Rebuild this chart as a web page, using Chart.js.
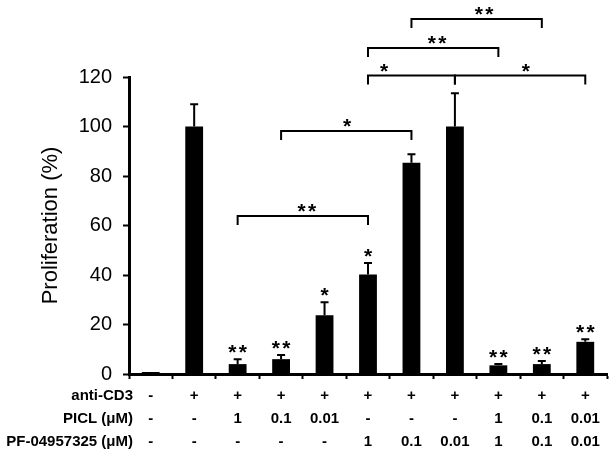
<!DOCTYPE html>
<html>
<head>
<meta charset="utf-8">
<script src="https://cdn.jsdelivr.net/npm/chart.js@4"></script>
<style>
  html, body { margin: 0; padding: 0; background: #fff; }
  #wrap { width: 612px; height: 458px; }
</style>
</head>
<body>
<div id="wrap"><canvas id="c" width="612" height="458"></canvas></div>
<script>
// ---- data ----
const antiCD3 = ['-', '+', '+', '+', '+', '+', '+', '+', '+', '+', '+'];
const picl    = ['-', '-', '1', '0.1', '0.01', '-', '-', '-', '1', '0.1', '0.01'];
const pf      = ['-', '-', '-', '-', '-', '1', '0.1', '0.01', '1', '0.1', '0.01'];
const rowLabels = ['anti-CD3', 'PICL (\u03BCM)', 'PF-04957325 (\u03BCM)'];

const proliferation = [0.8, 100, 4, 6, 23.7, 40.2, 85.4, 100, 3.5, 4, 13];
const errUp         = [0, 9, 2, 1.7, 5.3, 4.6, 3.4, 13.4, 0.5, 1.3, 1];
const barStars      = ['', '', '**', '**', '*', '*', '', '', '**', '**', '**'];

// brackets (category indices, height in data units)
const bracketFrom   = [2, 3, 5, 7, 5, 6];
const bracketTo     = [5, 6, 7, 10, 8, 9];
const bracketY      = [63.8, 98.2, 120.6, 120.6, 131.7, 143.4];
const bracketLabel  = ['**', '*', '*', '*', '**', '**'];
const bracketLabelX = [3.59, 4.52, 5.37, 8.63, 6.59, 7.67];

const yTicks = [0, 20, 40, 60, 80, 100, 120];

const FONT = '"Liberation Sans", Arial, Helvetica, sans-serif';
const labels = antiCD3.map((a, i) => [a, picl[i], pf[i]]);
const TABLE_LH = 23;
const TABLE_PAD = 5;
const X_TICKLEN = 5;

function drawStars(ctx, text, cx, cy) {
  const n = text.length;
  const sp = 10.5;
  ctx.save();
  ctx.fillStyle = '#000';
  ctx.font = 'bold 21px ' + FONT;
  ctx.textAlign = 'center';
  ctx.textBaseline = 'alphabetic';
  for (let k = 0; k < n; k++) {
    const x = cx + (k - (n - 1) / 2) * sp;
    ctx.fillText('*', x, cy + 12);
  }
  ctx.restore();
}

const overlay = {
  id: 'overlay',
  afterDraw(chart) {
    const ctx = chart.ctx;
    const xs = chart.scales.x, ys = chart.scales.y;
    ctx.save();
    ctx.strokeStyle = '#000';
    ctx.lineWidth = 2;
    // error bars
    proliferation.forEach((v, i) => {
      if (!errUp[i]) return;
      const x = xs.getPixelForValue(i);
      const y0 = ys.getPixelForValue(v);
      const y1 = ys.getPixelForValue(v + errUp[i]);
      ctx.beginPath();
      ctx.moveTo(x, y0); ctx.lineTo(x, y1);
      ctx.moveTo(x - 4, y1); ctx.lineTo(x + 4, y1);
      ctx.stroke();
    });
    // stars above bars
    barStars.forEach((s, i) => {
      if (!s) return;
      const x = xs.getPixelForValue(i);
      const y = ys.getPixelForValue(proliferation[i] + errUp[i]) - 12;
      drawStars(ctx, s, x, y);
    });
    // brackets
    bracketFrom.forEach((f, k) => {
      const x0 = xs.getPixelForValue(f);
      const x1 = xs.getPixelForValue(bracketTo[k]);
      const y = ys.getPixelForValue(bracketY[k]);
      ctx.beginPath();
      ctx.moveTo(x0, y + 9); ctx.lineTo(x0, y); ctx.lineTo(x1, y); ctx.lineTo(x1, y + 9);
      ctx.stroke();
      const lx = xs.getPixelForValue(0) + bracketLabelX[k] * (xs.getPixelForValue(1) - xs.getPixelForValue(0));
      drawStars(ctx, bracketLabel[k], lx, y - 10);
    });
    // table row labels
    ctx.fillStyle = '#000';
    ctx.font = 'bold 15px ' + FONT;
    ctx.textAlign = 'right';
    ctx.textBaseline = 'middle';
    rowLabels.forEach((t, r) => {
      const y = xs.top + X_TICKLEN + TABLE_PAD + TABLE_LH / 2 + r * TABLE_LH;
      ctx.fillText(t, 133, y);
    });
    ctx.restore();
  }
};

new Chart(document.getElementById('c'), {
  type: 'bar',
  data: {
    labels: labels,
    datasets: [{
      data: proliferation,
      backgroundColor: '#000',
      borderWidth: 0,
      barPercentage: 0.41,
      categoryPercentage: 1.0
    }]
  },
  options: {
    responsive: false,
    animation: false,
    devicePixelRatio: 1,
    layout: { padding: { top: 77, right: 5, left: 0, bottom: 0 } },
    plugins: { legend: { display: false }, tooltip: { enabled: false } },
    scales: {
      x: {
        type: 'category',
        offset: true,
        afterFit(s) { s.height = 84; },
        grid: {
          display: true, drawOnChartArea: false, drawTicks: true, offset: true,
          tickLength: X_TICKLEN, tickWidth: 2, tickColor: '#000', color: '#000'
        },
        border: { display: true, color: '#000', width: 3 },
        ticks: {
          autoSkip: false, maxRotation: 0, minRotation: 0,
          color: '#000', padding: TABLE_PAD,
          font: { family: FONT, size: 15, weight: 'bold', lineHeight: TABLE_LH / 15 }
        }
      },
      y: {
        min: 0, max: 120,
        afterFit(s) { s.width = 129; },
        afterBuildTicks(s) { s.ticks = yTicks.map(v => ({ value: v })); },
        grid: {
          display: true, drawOnChartArea: false, drawTicks: true,
          tickLength: 6, tickWidth: 2, tickColor: '#000', color: '#000'
        },
        border: { display: true, color: '#000', width: 3 },
        ticks: {
          color: '#000', padding: 11,
          font: { family: FONT, size: 20 }
        },
        title: {
          display: true, text: 'Proliferation (%)', color: '#000',
          padding: { top: 38, bottom: 0 },
          font: { family: FONT, size: 22 }
        }
      }
    }
  },
  plugins: [overlay]
});
</script>
</body>
</html>
